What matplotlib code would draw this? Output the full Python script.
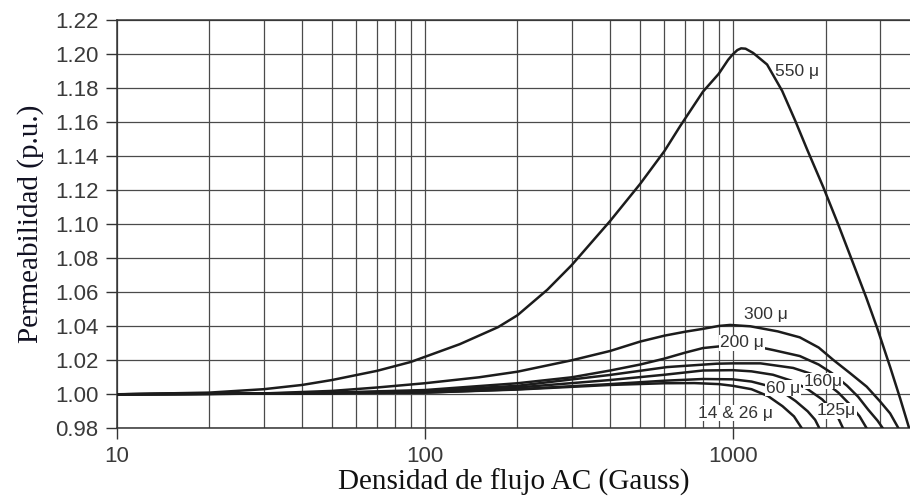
import numpy as np
import matplotlib.pyplot as plt
from matplotlib.ticker import LogLocator, FixedLocator, NullFormatter

# permeabilidad relativa vs densidad de flujo AC, por material (mu)
x550 = [10, 20, 30, 40, 50, 70, 90, 100, 130, 173, 200, 250, 300, 400, 500, 600, 676, 800, 900, 966,
        1000, 1035, 1064, 1100, 1164, 1292, 1446, 1594, 1743, 1965, 2198, 2459, 2710, 2942, 3242, 3494, 3737]
mu550 = [1.000, 1.001, 1.003, 1.0055, 1.0084, 1.0138, 1.019, 1.022, 1.0295, 1.0395, 1.0465, 1.0615, 1.076, 1.102,
         1.1237, 1.1431, 1.158, 1.178, 1.1885, 1.1968, 1.2000, 1.2025, 1.2035, 1.2033, 1.2008, 1.1940, 1.1785,
         1.1610, 1.1440, 1.1220, 1.1000, 1.0770, 1.0570, 1.0390, 1.0160, 0.9975, 0.9800]

x300 = [10, 20, 30, 50, 70, 100, 150, 200, 300, 400, 500, 600, 700, 800, 900, 980, 1140, 1400, 1650, 1900,
        2120, 2400, 2720, 3000, 3240, 3450]
mu300 = [1.000, 1.0001, 1.0005, 1.002, 1.004, 1.0065, 1.010, 1.0133, 1.0200, 1.0255, 1.031, 1.0345, 1.0368, 1.0385,
         1.0402, 1.0408, 1.0400, 1.037, 1.0335, 1.0275, 1.0202, 1.0125, 1.0045, 0.996, 0.9888, 0.980]

x200 = [10, 30, 50, 100, 200, 300, 400, 500, 600, 700, 800, 1000, 1200, 1355, 1650, 1900, 2100, 2350, 2550,
        2750, 2950, 3070]
mu200 = [1.000, 1.0005, 1.001, 1.0025, 1.0065, 1.0100, 1.0140, 1.0175, 1.021, 1.0245, 1.0272, 1.0290, 1.0280,
         1.026, 1.0225, 1.0175, 1.0124, 1.005, 0.9986, 0.991, 0.9845, 0.980]

x160 = [10, 50, 100, 200, 400, 611, 886, 1000, 1230, 1570, 1800, 2000, 2200, 2400, 2580, 2720]
mu160 = [1.000, 1.0008, 1.002, 1.005, 1.0114, 1.0160, 1.0180, 1.0182, 1.0182, 1.0155, 1.012, 1.007, 1.001,
         0.994, 0.987, 0.980]

x125 = [10, 50, 100, 200, 400, 600, 800, 1000, 1150, 1350, 1550, 1750, 1950, 2100, 2200, 2280]
mu125 = [1.000, 1.0006, 1.0015, 1.004, 1.0084, 1.0115, 1.0140, 1.0142, 1.0135, 1.0115, 1.008, 1.003, 0.997,
         0.991, 0.986, 0.980]

x60 = [10, 100, 200, 400, 600, 800, 1000, 1150, 1300, 1460, 1600, 1750, 1850, 1910]
mu60 = [1.000, 1.001, 1.003, 1.0060, 1.0080, 1.0090, 1.0088, 1.0075, 1.005, 1.001, 0.996, 0.990, 0.985, 0.980]

x14 = [10, 100, 200, 400, 600, 750, 900, 1000, 1150, 1300, 1450, 1580, 1675]
mu14 = [1.000, 1.001, 1.0028, 1.0055, 1.0065, 1.0066, 1.0060, 1.0050, 1.003, 0.999, 0.993, 0.987, 0.980]

series = [(x550, mu550), (x300, mu300), (x200, mu200), (x160, mu160),
          (x125, mu125), (x60, mu60), (x14, mu14)]

# etiquetas de cada curva: texto, x, y, fondo blanco
labels = ['550 \u03bc', '300 \u03bc', '200 \u03bc', '160\u03bc', '125\u03bc', '60 \u03bc', '14 & 26 \u03bc']
label_x = [1618, 1282, 1072, 1963, 2170, 1459, 1019]
label_y = [1.1896, 1.0467, 1.0302, 1.0078, 0.9902, 1.0037, 0.9890]
label_box = [False, False, True, True, True, True, True]

yticks = np.round(np.arange(0.98, 1.2201, 0.02), 2)

fig = plt.figure(figsize=(9.1, 5.0), dpi=100)
ax = fig.add_axes([0.1282, 0.1434, 0.8718, 0.8160])

for xs, ys in series:
    ax.plot(xs, ys, color='#1c1c1c', lw=1.8, solid_capstyle='round', solid_joinstyle='round', zorder=3)

for t, lx, ly, box in zip(labels, label_x, label_y, label_box):
    kw = {}
    if box:
        kw['bbox'] = dict(facecolor='white', edgecolor='none', pad=0.6)
    ax.text(lx, ly, t, ha='center', va='center', fontsize=12.5, color='#333333',
            family='Liberation Sans', zorder=4, **kw)

ax.set_xscale('log')
ax.set_xlim(10, 3760)
ax.set_ylim(0.98, 1.22)

ax.xaxis.set_major_locator(FixedLocator([10, 100, 1000]))
ax.set_xticklabels(['10', '100', '1000'])
ax.xaxis.set_minor_locator(LogLocator(base=10, subs=np.arange(2, 10)))
ax.xaxis.set_minor_formatter(NullFormatter())
ax.set_yticks(yticks)
ax.set_yticklabels(['%.2f' % v for v in yticks])

ax.grid(True, which='both', axis='x', color='#4a4a4a', lw=0.9)
ax.grid(True, which='major', axis='y', color='#4a4a4a', lw=0.9)
ax.tick_params(axis='both', which='major', direction='out', length=8, width=1.0, color='#333333',
               labelsize=16, labelcolor='#3a3a3a', pad=5)
ax.tick_params(axis='x', which='minor', length=0)
for lab in ax.get_xticklabels() + ax.get_yticklabels():
    lab.set_family('Liberation Sans')

for side in ['left', 'bottom', 'top']:
    ax.spines[side].set_color('#333333')
    ax.spines[side].set_linewidth(1.1)
ax.spines['right'].set_visible(False)

ax.set_xlabel('Densidad de flujo AC (Gauss)', family='Liberation Serif', fontsize=21, color='#111111',
              labelpad=1)
ax.set_ylabel('Permeabilidad (p.u.)', family='Liberation Serif', fontsize=21, color='#111122',
              labelpad=8)

fig.savefig('out.png', dpi=100)
